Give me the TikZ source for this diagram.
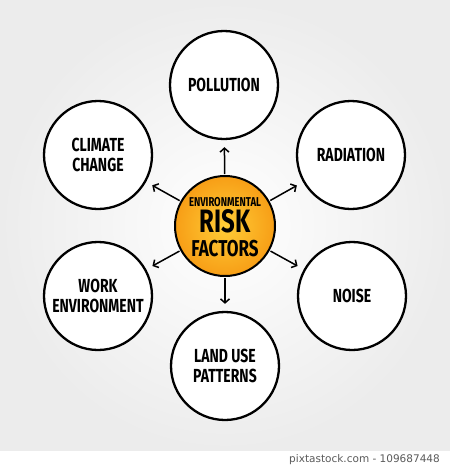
\documentclass[tikz,border=0pt]{standalone}
\usepackage{fontspec}
\setmainfont{Fira Sans}
\newfontfamily\wmfont{DejaVu Sans}
\usetikzlibrary{arrows.meta}
\definecolor{bggray}{RGB}{236,236,236}
\definecolor{orin}{RGB}{255,205,55}
\definecolor{orout}{RGB}{247,158,22}
\definecolor{wmgray}{RGB}{90,90,90}
\newcommand{\tallt}[1]{\scalebox{1}[1.35]{#1}}
\tikzset{
  outer/.style={circle, draw=black, line width=2.3pt, fill=white, minimum size=108pt, inner sep=0pt, align=center, font=\bfseries\fontsize{14}{12}\selectfont},
  hub/.style={circle, draw=black, line width=2pt, minimum size=100pt, inner sep=0pt, inner color=orin, outer color=orout},
  hubtext/.style={inner sep=0pt},
  arr/.style={-{Straight Barb[length=4pt,width=9pt]}, line width=1.5pt, shorten <=1pt, shorten >=7pt}
}
\begin{document}
\begin{tikzpicture}[x=1pt,y=-1pt]
\useasboundingbox (0,0) rectangle (450,469);
\shade[inner color=white, outer color=bggray] (0,0) rectangle (450,451);
\fill[white] (0,451) rectangle (450,469);
\node[anchor=east, text=wmgray, font=\wmfont\fontsize{10.5}{12}\selectfont, inner sep=0pt] (wm) at (440,460) {pixtastock.com - 109687448};

\node[hub] (c) at (225,226) {};
\node[hubtext, font=\bfseries\fontsize{9.5}{8}\selectfont] (t1) at (225,202) {\tallt{ENVIRONMENTAL}};
\node[hubtext, font=\bfseries\fontsize{24}{20}\selectfont] (t2) at (225,221) {\tallt{RISK}};
\node[hubtext, font=\bfseries\fontsize{17}{13}\selectfont] (t3) at (225,249) {\tallt{FACTORS}};

\node[outer] (pol) at (224,85) {\tallt{POLLUTION}};
\node[outer] (rad) at (351,155) {\tallt{RADIATION}};
\node[outer] (noi) at (352,296) {\tallt{NOISE}};
\node[outer] (lan) at (225,366) {\tallt{LAND USE}\\[5pt]\tallt{PATTERNS}};
\node[outer] (wor) at (98,296) {\tallt{WORK}\\[5pt]\tallt{ENVIRONMENT}};
\node[outer] (cli) at (98,155) {\tallt{CLIMATE}\\[5pt]\tallt{CHANGE}};

\foreach \t in {pol,rad,noi,lan,wor,cli}
  \draw[arr] (c) -- (\t);
\end{tikzpicture}
\end{document}
